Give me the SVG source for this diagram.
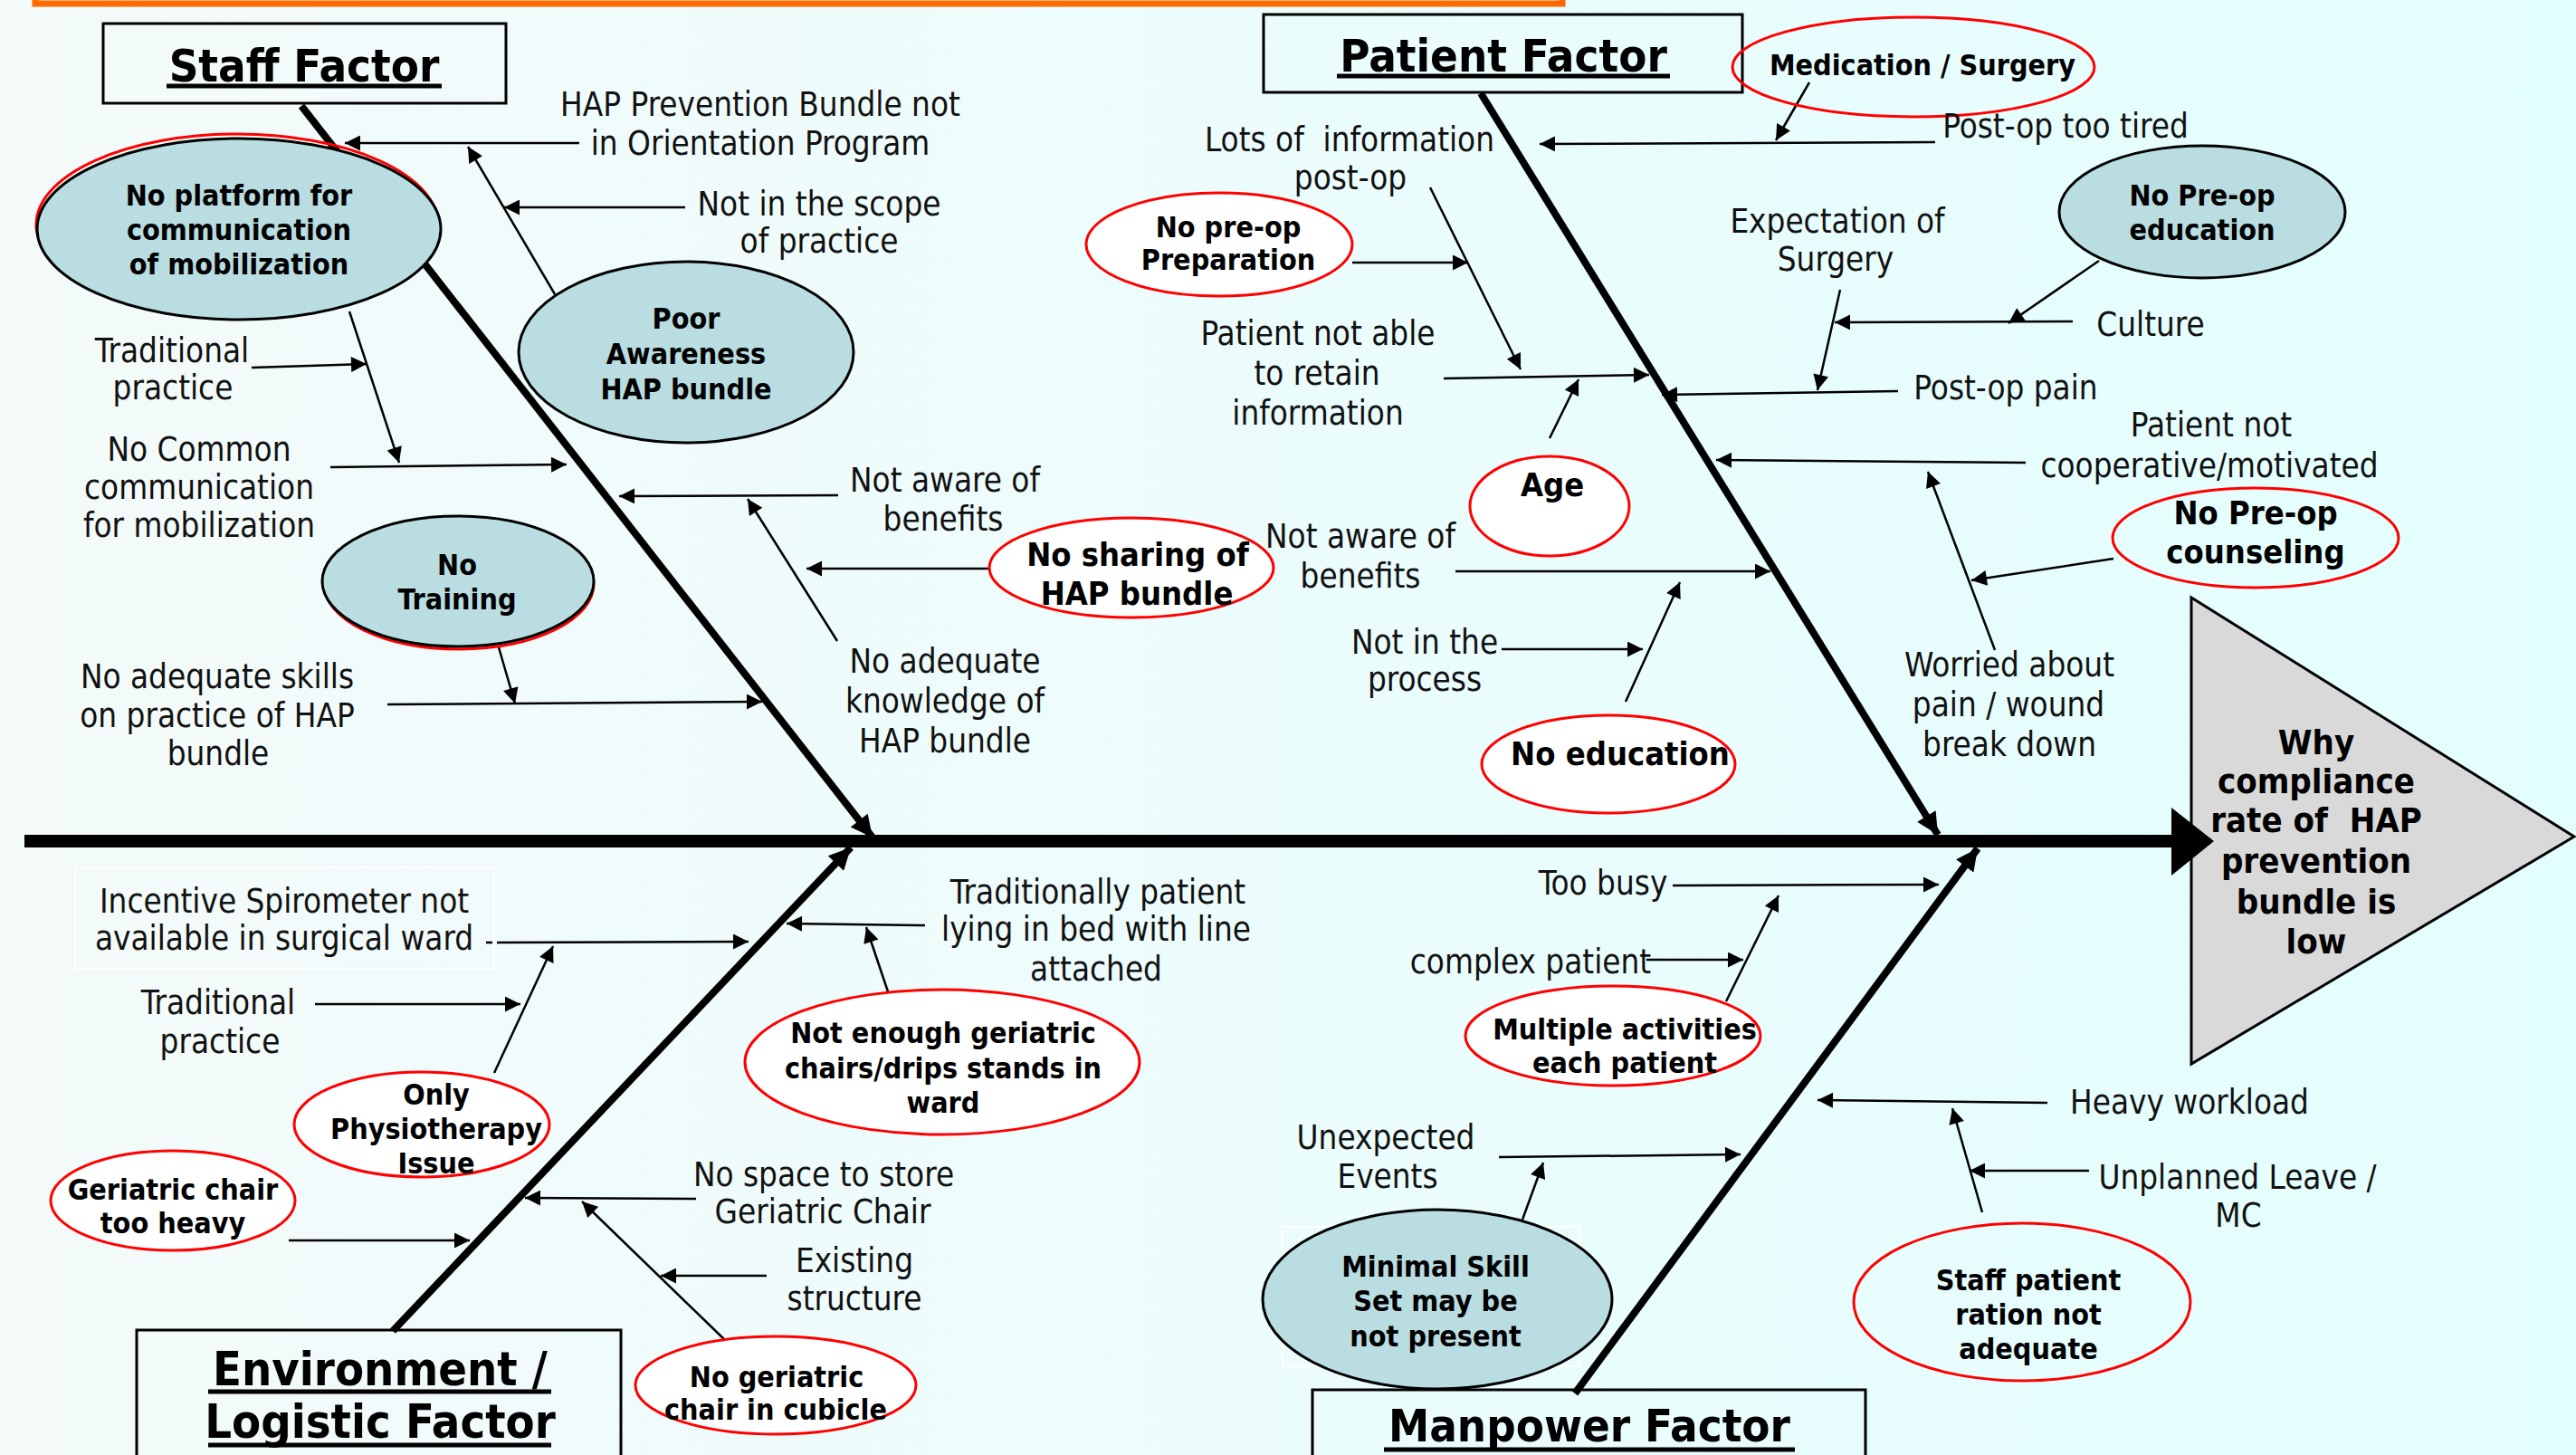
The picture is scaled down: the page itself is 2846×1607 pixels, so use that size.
<svg xmlns="http://www.w3.org/2000/svg" width="2846" height="1607" viewBox="0 0 2846 1607">
<defs>
<linearGradient id="bg" x1="0" y1="0" x2="1" y2="0">
<stop offset="0" stop-color="#f4fafa"/>
<stop offset="1" stop-color="#e3fefe"/>
</linearGradient>
<marker id="a" viewBox="0 0 10 10" refX="10" refY="5" markerWidth="22" markerHeight="17" markerUnits="userSpaceOnUse" orient="auto"><path d="M0,0L10,5L0,10z" fill="#000"/></marker>
<marker id="ab" viewBox="0 0 10 10" refX="10" refY="5" markerWidth="26" markerHeight="24" markerUnits="userSpaceOnUse" orient="auto"><path d="M0,0L10,5L0,10z" fill="#000"/></marker>
<style>
.t{font-family:"DejaVu Sans Condensed","DejaVu Sans",sans-serif;font-stretch:condensed;font-size:36.5px;fill:#111;text-anchor:middle;white-space:pre}
.b{font-family:"DejaVu Sans Condensed","DejaVu Sans",sans-serif;font-stretch:condensed;font-weight:bold;font-size:32px;fill:#000;text-anchor:middle;white-space:pre}
.bl{font-family:"DejaVu Sans Condensed","DejaVu Sans",sans-serif;font-stretch:condensed;font-weight:bold;font-size:36px;fill:#000;text-anchor:middle;white-space:pre}
.h{font-family:"DejaVu Sans Condensed","DejaVu Sans",sans-serif;font-stretch:condensed;font-weight:bold;font-size:50.5px;fill:#000;text-anchor:middle}
.tb{font-family:"DejaVu Sans Condensed","DejaVu Sans",sans-serif;font-stretch:condensed;font-weight:bold;font-size:38px;fill:#000;text-anchor:middle;white-space:pre}
.ul{stroke:#000;stroke-width:5}
.box{fill:none;stroke:#000;stroke-width:3}
.ln{stroke:#000;stroke-width:2.5;fill:none;marker-end:url(#a)}
.bone{stroke:#000;stroke-width:8;fill:none;marker-end:url(#ab)}
.blue{fill:#b9dde1;stroke:#000;stroke-width:3}
.red{fill:#fff;stroke:#f00;stroke-width:3}
.redn{fill:none;stroke:#f00;stroke-width:3}
.faint{fill:none;stroke:#fff;stroke-width:2}
</style>
</defs>
<rect x="0" y="0" width="2846" height="1607" fill="url(#bg)"/>
<rect x="39" y="-30" width="1687" height="34" fill="none" stroke="#ff6a00" stroke-width="7"/>

<g id="effect">
<polygon points="2421,660 2844,924 2421,1175" fill="#d9d9d9" stroke="#000" stroke-width="3"/>
<text class="tb"><tspan x="2559" y="833">Why</tspan><tspan x="2559" y="876">compliance</tspan><tspan x="2559" y="919">rate of  HAP</tspan><tspan x="2559" y="964">prevention</tspan><tspan x="2559" y="1009">bundle is</tspan><tspan x="2559" y="1053">low</tspan></text>
</g>

<g id="connectors">
<line x1="27" y1="929" x2="2402" y2="929" stroke="#000" stroke-width="14"/>
<polygon points="2399,892 2446,929 2399,967" fill="#000"/>
<line class="bone" x1="333" y1="117" x2="964" y2="925"/>
<line class="bone" x1="1636" y1="103" x2="2141" y2="922"/>
<line class="bone" x1="434" y1="1470" x2="940" y2="936"/>
<line class="bone" x1="1740" y1="1539" x2="2185" y2="937"/>
<line class="ln" x1="640" y1="158" x2="381" y2="158"/>
<line class="ln" x1="613" y1="325" x2="517" y2="162"/>
<line class="ln" x1="757" y1="229" x2="557" y2="229"/>
<line class="ln" x1="386" y1="344" x2="441" y2="511"/>
<line class="ln" x1="278" y1="406" x2="405" y2="402"/>
<line class="ln" x1="365" y1="516" x2="626" y2="513"/>
<line class="ln" x1="926" y1="547" x2="684" y2="548"/>
<line class="ln" x1="925" y1="708" x2="826" y2="551"/>
<line class="ln" x1="1094" y1="628" x2="891" y2="628"/>
<line class="ln" x1="551" y1="715" x2="569" y2="777"/>
<line class="ln" x1="428" y1="778" x2="842" y2="775"/>
<line class="ln" x1="1999" y1="91" x2="1962" y2="155"/>
<line class="ln" x1="2138" y1="157" x2="1701" y2="159"/>
<line class="ln" x1="1580" y1="207" x2="1680" y2="408"/>
<line class="ln" x1="1494" y1="290" x2="1622" y2="290"/>
<line class="ln" x1="1595" y1="418" x2="1822" y2="414"/>
<line class="ln" x1="1712" y1="484" x2="1744" y2="419"/>
<line class="ln" x1="2033" y1="320" x2="2008" y2="431"/>
<line class="ln" x1="2319" y1="288" x2="2219" y2="357"/>
<line class="ln" x1="2290" y1="355" x2="2027" y2="356"/>
<line class="ln" x1="2097" y1="432" x2="1836" y2="436"/>
<line class="ln" x1="2238" y1="511" x2="1896" y2="508"/>
<line class="ln" x1="2204" y1="718" x2="2130" y2="521"/>
<line class="ln" x1="2335" y1="617" x2="2178" y2="641"/>
<line class="ln" x1="1608" y1="631" x2="1956" y2="631"/>
<line class="ln" x1="1659" y1="717" x2="1815" y2="717"/>
<line class="ln" x1="1796" y1="775" x2="1856" y2="643"/>
<line x1="537" y1="1041" x2="544" y2="1041" stroke="#000" stroke-width="2.5"/>
<line class="ln" x1="549" y1="1041" x2="827" y2="1040"/>
<line class="ln" x1="546" y1="1185" x2="611" y2="1045"/>
<line class="ln" x1="348" y1="1109" x2="575" y2="1109"/>
<line class="ln" x1="319" y1="1370" x2="519" y2="1370"/>
<line class="ln" x1="769" y1="1324" x2="580" y2="1323"/>
<line class="ln" x1="803" y1="1482" x2="643" y2="1327"/>
<line class="ln" x1="847" y1="1409" x2="730" y2="1409"/>
<line class="ln" x1="1022" y1="1022" x2="869" y2="1020"/>
<line class="ln" x1="989" y1="1119" x2="957" y2="1024"/>
<line class="ln" x1="1848" y1="978" x2="2142" y2="977"/>
<line class="ln" x1="1907" y1="1106" x2="1965" y2="989"/>
<line class="ln" x1="1819" y1="1060" x2="1926" y2="1060"/>
<line class="ln" x1="1656" y1="1278" x2="1923" y2="1275"/>
<line class="ln" x1="1682" y1="1347" x2="1705" y2="1284"/>
<line class="ln" x1="2262" y1="1218" x2="2008" y2="1215"/>
<line class="ln" x1="2190" y1="1339" x2="2157" y2="1224"/>
<line class="ln" x1="2308" y1="1293" x2="2176" y2="1293"/>
</g>

<g id="staff-factor">
<rect class="box" x="114" y="26" width="445" height="88"/>
<text class="h" x="336" y="90">Staff Factor</text>
<line class="ul" x1="184" y1="95" x2="488" y2="95"/>
</g>
<g id="hap-orientation"><text class="t"><tspan x="840" y="128">HAP Prevention Bundle not</tspan><tspan x="840" y="171">in Orientation Program</tspan></text></g>
<g id="scope"><text class="t"><tspan x="905" y="238">Not in the scope</tspan><tspan x="905" y="279">of practice</tspan></text></g>
<g id="no-platform">
<ellipse class="redn" cx="262" cy="248" rx="222" ry="100"/>
<ellipse class="blue" cx="264" cy="253" rx="223" ry="100"/>
<text class="b"><tspan x="264" y="227">No platform for</tspan><tspan x="264" y="265">communication</tspan><tspan x="264" y="303">of mobilization</tspan></text>
</g>
<g id="traditional-staff"><text class="t"><tspan x="190" y="400">Traditional</tspan><tspan x="191" y="441">practice</tspan></text></g>
<g id="no-common"><text class="t"><tspan x="220" y="509">No Common</tspan><tspan x="220" y="551">communication</tspan><tspan x="220" y="593">for mobilization</tspan></text></g>
<g id="poor-awareness">
<ellipse class="blue" cx="758" cy="389" rx="185" ry="100"/>
<text class="b"><tspan x="758" y="363">Poor</tspan><tspan x="758" y="402">Awareness</tspan><tspan x="758" y="441">HAP bundle</tspan></text>
</g>
<g id="not-aware-staff"><text class="t"><tspan x="1044" y="543">Not aware of</tspan><tspan x="1042" y="586">benefits</tspan></text></g>
<g id="no-sharing">
<ellipse class="red" cx="1250" cy="627" rx="157" ry="55"/>
<text class="bl"><tspan x="1257" y="625">No sharing of</tspan><tspan x="1256" y="668">HAP bundle</tspan></text>
</g>
<g id="no-adequate-knowledge"><text class="t"><tspan x="1044" y="743">No adequate</tspan><tspan x="1044" y="787">knowledge of</tspan><tspan x="1044" y="831">HAP bundle</tspan></text></g>
<g id="no-training">
<ellipse class="redn" cx="507" cy="645" rx="149" ry="72"/>
<ellipse class="blue" cx="506" cy="642" rx="150" ry="72"/>
<text class="b"><tspan x="505" y="635">No</tspan><tspan x="505" y="673">Training</tspan></text>
</g>
<g id="no-adequate-skills"><text class="t"><tspan x="240" y="760">No adequate skills</tspan><tspan x="240" y="803">on practice of HAP</tspan><tspan x="241" y="845">bundle</tspan></text></g>

<g id="patient-factor">
<rect class="box" x="1396" y="16" width="529" height="86"/>
<text class="h" x="1661" y="79">Patient Factor</text>
<line class="ul" x1="1477" y1="84" x2="1845" y2="84"/>
</g>
<g id="medication">
<ellipse class="redn" cx="2114" cy="74" rx="200" ry="55"/>
<text class="b" x="2124" y="83">Medication / Surgery</text>
</g>
<g id="post-op-tired"><text class="t" x="2282" y="152">Post-op too tired</text></g>
<g id="lots-info"><text class="t"><tspan x="1491" y="167">Lots of  information</tspan><tspan x="1492" y="209">post-op</tspan></text></g>
<g id="no-preop-prep">
<ellipse class="red" cx="1347" cy="270" rx="147" ry="57"/>
<text class="b"><tspan x="1357" y="262">No pre-op</tspan><tspan x="1357" y="298">Preparation</tspan></text>
</g>
<g id="not-retain"><text class="t"><tspan x="1456" y="381">Patient not able</tspan><tspan x="1455" y="425">to retain</tspan><tspan x="1456" y="469">information</tspan></text></g>
<g id="age">
<ellipse class="red" cx="1712" cy="559" rx="88" ry="55"/>
<text class="bl" x="1715" y="548">Age</text>
</g>
<g id="expectation"><text class="t"><tspan x="2030" y="257">Expectation of</tspan><tspan x="2028" y="299">Surgery</tspan></text></g>
<g id="no-preop-education">
<ellipse class="blue" cx="2433" cy="234" rx="158" ry="73"/>
<text class="b"><tspan x="2433" y="227">No Pre-op</tspan><tspan x="2433" y="265">education</tspan></text>
</g>
<g id="culture"><text class="t" x="2376" y="371">Culture</text></g>
<g id="post-op-pain"><text class="t" x="2216" y="441">Post-op pain</text></g>
<g id="not-cooperative"><text class="t"><tspan x="2443" y="482">Patient not</tspan><tspan x="2441" y="527">cooperative/motivated</tspan></text></g>
<g id="no-preop-counseling">
<ellipse class="redn" cx="2492" cy="594" rx="158" ry="55"/>
<text class="bl"><tspan x="2492" y="579">No Pre-op</tspan><tspan x="2492" y="622">counseling</tspan></text>
</g>
<g id="worried"><text class="t"><tspan x="2220" y="747">Worried about</tspan><tspan x="2219" y="791">pain / wound</tspan><tspan x="2220" y="835">break down</tspan></text></g>
<g id="not-aware-patient"><text class="t"><tspan x="1503" y="605">Not aware of</tspan><tspan x="1503" y="649">benefits</tspan></text></g>
<g id="not-in-process"><text class="t"><tspan x="1574" y="722">Not in the</tspan><tspan x="1574" y="763">process</tspan></text></g>
<g id="no-education">
<ellipse class="red" cx="1777" cy="844" rx="140" ry="54"/>
<text class="bl" x="1790" y="845">No education</text>
</g>

<g id="environment-factor">
<rect class="box" x="151" y="1469" width="535" height="200"/>
<text class="h" style="font-size:52px"><tspan x="420" y="1530">Environment /</tspan><tspan x="420" y="1588">Logistic Factor</tspan></text>
<line class="ul" x1="230" y1="1537" x2="609" y2="1537"/>
<line class="ul" x1="230" y1="1596" x2="609" y2="1596"/>
</g>
<g id="incentive">
<rect class="faint" x="83" y="958" width="463" height="112"/>
<text class="t"><tspan x="314" y="1008">Incentive Spirometer not</tspan><tspan x="314" y="1049">available in surgical ward</tspan></text>
</g>
<g id="traditional-env"><text class="t"><tspan x="241" y="1120">Traditional</tspan><tspan x="243" y="1163">practice</tspan></text></g>
<g id="only-physio">
<ellipse class="red" cx="466" cy="1242" rx="141" ry="58"/>
<text class="b"><tspan x="482" y="1220">Only</tspan><tspan x="482" y="1258">Physiotherapy</tspan><tspan x="482" y="1296">Issue</tspan></text>
</g>
<g id="geriatric-heavy">
<ellipse class="red" cx="191" cy="1326" rx="135" ry="55"/>
<text class="b"><tspan x="191" y="1325">Geriatric chair</tspan><tspan x="191" y="1362">too heavy</tspan></text>
</g>
<g id="no-space"><text class="t"><tspan x="910" y="1310">No space to store</tspan><tspan x="909" y="1351">Geriatric Chair</tspan></text></g>
<g id="existing"><text class="t"><tspan x="944" y="1405">Existing</tspan><tspan x="944" y="1447">structure</tspan></text></g>
<g id="no-geriatric-cubicle">
<ellipse class="red" cx="857" cy="1530" rx="155" ry="54"/>
<text class="b"><tspan x="858" y="1532">No geriatric</tspan><tspan x="857" y="1568">chair in cubicle</tspan></text>
</g>
<g id="traditionally-patient"><text class="t"><tspan x="1213" y="998">Traditionally patient</tspan><tspan x="1211" y="1039">lying in bed with line</tspan><tspan x="1211" y="1083">attached</tspan></text></g>
<g id="not-enough-chairs">
<ellipse class="red" cx="1041" cy="1173" rx="218" ry="80"/>
<text class="b"><tspan x="1042" y="1152">Not enough geriatric</tspan><tspan x="1042" y="1191">chairs/drips stands in</tspan><tspan x="1042" y="1229">ward</tspan></text>
</g>

<g id="manpower-factor">
<rect class="box" x="1450" y="1535" width="611" height="120"/>
<text class="h" x="1756" y="1592">Manpower Factor</text>
<line class="ul" x1="1529" y1="1601" x2="1983" y2="1601"/>
</g>
<g id="too-busy"><text class="t" x="1771" y="988">Too busy</text></g>
<g id="complex-patient"><text class="t" x="1691" y="1075">complex patient</text></g>
<g id="multiple-activities">
<ellipse class="red" cx="1782" cy="1144" rx="163" ry="55"/>
<text class="b"><tspan x="1795" y="1148">Multiple activities</tspan><tspan x="1795" y="1185">each patient</tspan></text>
</g>
<g id="unexpected"><text class="t"><tspan x="1531" y="1269">Unexpected</tspan><tspan x="1533" y="1312">Events</tspan></text></g>
<g id="minimal-skill">
<rect class="faint" x="1417" y="1355" width="328" height="154"/>
<ellipse class="blue" cx="1588" cy="1435" rx="193" ry="99"/>
<text class="b"><tspan x="1586" y="1410">Minimal Skill</tspan><tspan x="1586" y="1448">Set may be</tspan><tspan x="1586" y="1487">not present</tspan></text>
</g>
<g id="heavy-workload"><text class="t" x="2419" y="1230">Heavy workload</text></g>
<g id="unplanned-leave"><text class="t"><tspan x="2472" y="1313">Unplanned Leave /</tspan><tspan x="2473" y="1355">MC</tspan></text></g>
<g id="staff-ratio">
<ellipse class="redn" cx="2234" cy="1438" rx="186" ry="87"/>
<text class="b"><tspan x="2241" y="1425">Staff patient</tspan><tspan x="2241" y="1463">ration not</tspan><tspan x="2241" y="1501">adequate</tspan></text>
</g>
</svg>
